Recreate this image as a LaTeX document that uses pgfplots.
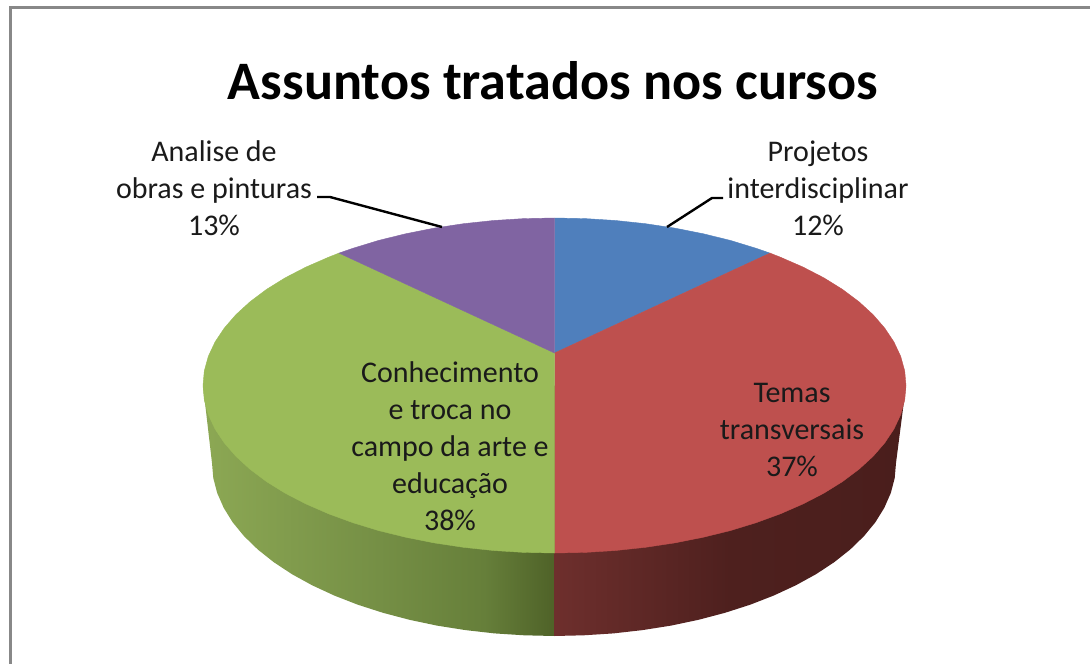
\documentclass[border=0pt]{standalone}
\usepackage{fontspec}
\setmainfont{Carlito}
\usepackage{pgfplots}
\pgfplotsset{compat=1.18}
\definecolor{pblue}{HTML}{4F7FBC}
\definecolor{pred}{HTML}{BE504E}
\definecolor{pgreen}{HTML}{9BBB59}
\definecolor{ppurple}{HTML}{8064A2}
\definecolor{framegray}{HTML}{888888}
\definecolor{lbl}{HTML}{1A1A1A}
\definecolor{rA}{HTML}{6E2F2D}
\definecolor{rB}{HTML}{4E201E}
\definecolor{rC}{HTML}{4A1E1C}
\definecolor{gA}{HTML}{8CA854}
\definecolor{gB}{HTML}{758F45}
\definecolor{gC}{HTML}{667F3A}
\definecolor{gD}{HTML}{4F6228}
% side walls of the pie; the bounding box of the path runs from 25bp to 75bp
\pgfdeclarehorizontalshading{redside}{100bp}{color(0bp)=(rA);color(25bp)=(rA);color(50bp)=(rB);color(75bp)=(rC);color(100bp)=(rC)}
\pgfdeclarehorizontalshading{greenside}{100bp}{color(0bp)=(gA);color(25bp)=(gA);color(50bp)=(gB);color(65bp)=(gC);color(75bp)=(gD);color(100bp)=(gD)}
\begin{document}
\begin{tikzpicture}
\begin{axis}[
  name=pie,
  width=1090pt, height=664pt, scale only axis,
  xmin=0, xmax=1090, ymin=0, ymax=664,
  y dir=reverse,
  axis lines=none,
  every axis plot/.append style={no markers, forget plot},
]
% white page, so the picture keeps its full size
\addplot[fill=white, draw=none] coordinates {(0,0) (1090,0) (1090,664) (0,664)} --cycle;
% frame: only top and left show
\addplot[framegray, line width=3pt] coordinates {(10,664) (10,7.5) (1090,7.5)};

% side walls
\addplot[draw=none, shade, shading=redside] coordinates {
 (554,385.5) (906,385.5) (896,463) (894.7,478.1) (890.8,493.0) (884.3,507.8) (875.4,522.2)
 (864.0,536.1) (850.2,549.5) (834.2,562.2) (816.0,574.2) (795.8,585.3) (773.8,595.5)
 (750.2,604.7) (725.0,612.8) (698.5,619.8) (671.0,625.6) (642.5,630.1) (613.4,633.4)
 (583.8,635.3) (554,636)} --cycle;
\addplot[draw=none, shade, shading=greenside] coordinates {
 (203,385.5) (554.5,385.5) (554.5,636) (524.2,635.3) (494.6,633.4) (465.5,630.1) (437.0,625.6)
 (409.5,619.8) (383.0,612.8) (357.8,604.7) (334.2,595.5) (312.2,585.3) (292.0,574.2)
 (273.8,562.2) (257.8,549.5) (244.0,536.1) (232.6,522.2) (223.7,507.8) (217.2,493.0)
 (213.3,478.1) (212,463)} --cycle;

% top face
\addplot[fill=pblue, draw=pblue, line width=0.4pt] coordinates {
 (554.5,353) (554.5,218.0) (585.1,218.6) (615.5,220.5) (645.5,223.7) (674.7,228.1)
 (703.0,233.7) (730.3,240.4) (756.1,248.3) (770,253.1)} --cycle;
\addplot[fill=pred, draw=pred, line width=0.4pt] coordinates {
 (554.5,353) (770,253.1) (780.4,257.2) (803.1,267.1) (823.8,277.8) (842.5,289.4) (858.9,301.7)
 (873.1,314.7) (884.8,328.2) (894.0,342.1) (900.7,356.4) (904.7,370.9) (906.0,385.5)
 (904.7,400.1) (900.7,414.6) (894.0,428.9) (884.8,442.8) (873.1,456.3) (858.9,469.3)
 (842.5,481.6) (823.8,493.2) (803.1,503.9) (780.4,513.8) (756.1,522.7) (730.3,530.6)
 (703.0,537.3) (674.7,542.9) (645.5,547.3) (615.5,550.5) (585.1,552.4) (554.5,553.0)} --cycle;
\addplot[fill=pgreen, draw=pgreen, line width=0.4pt] coordinates {
 (554.5,353) (554.5,553.0) (523.9,552.4) (493.5,550.5) (463.5,547.3) (434.3,542.9) (406.0,537.3)
 (378.7,530.6) (352.9,522.7) (328.6,513.8) (305.9,503.9) (285.2,493.2) (266.5,481.6)
 (250.1,469.3) (235.9,456.3) (224.2,442.8) (215.0,428.9) (208.3,414.6) (204.3,400.1)
 (203.0,385.5) (204.3,370.9) (208.3,356.4) (215.0,342.1) (224.2,328.2) (235.9,314.7)
 (250.1,301.7) (266.5,289.4) (285.2,277.8) (305.9,267.1) (328.6,257.2) (339,253.1)} --cycle;
\addplot[fill=ppurple, draw=ppurple, line width=0.4pt] coordinates {
 (554.5,353) (339,253.1) (352.9,248.3) (378.7,240.4) (406.0,233.7) (434.3,228.1)
 (463.5,223.7) (493.5,220.5) (523.9,218.6) (554.5,218.0)} --cycle;

% leader lines
\addplot[black, line width=2.4pt] coordinates {(317,197) (330,197) (442,227)};
\addplot[black, line width=2.4pt] coordinates {(723,198) (712,198) (667,227)};

% title and labels
\node[font=\fontsize{54.2}{60}\bfseries\selectfont, text=black] at (axis cs:553,81) {Assuntos tratados nos cursos};
\begin{scope}[every node/.style={font=\fontsize{30}{37}\selectfont, text=lbl, align=center, inner sep=0pt}]
\node at (axis cs:214,188) {Analise de\\obras e pinturas\\13\%};
\node at (axis cs:818,188) {Projetos\\interdisciplinar\\12\%};
\node at (axis cs:792,430) {Temas\\transversais\\37\%};
\node at (axis cs:450,446) {Conhecimento\\e troca no\\campo da arte e\\educação\\38\%};
\end{scope}
\end{axis}
\pgfresetboundingbox
\path[use as bounding box] (pie.south west) rectangle (pie.north east);
\end{tikzpicture}
\end{document}
